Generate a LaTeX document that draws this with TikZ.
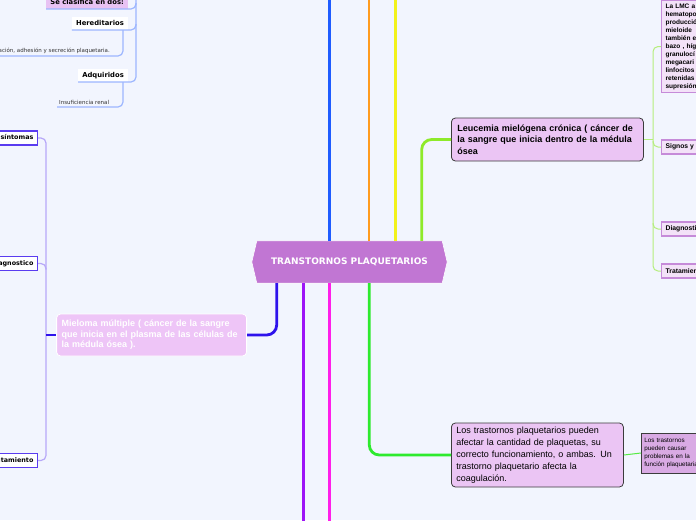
\documentclass[tikz,border=0pt]{standalone}
\usepackage{fontspec}
\setmainfont{Liberation Sans}
\newfontfamily\verd{DejaVu Sans}
\usetikzlibrary{calc}
\definecolor{bg}{HTML}{F2F5FE}
\definecolor{hexc}{HTML}{C176D3}
\definecolor{lavbox}{HTML}{EBC5F4}
\definecolor{darkbord}{HTML}{3C3C3C}
\definecolor{miecol}{HTML}{EEC5F7}
\definecolor{smallbox}{HTML}{D9AAE4}
\definecolor{clasif}{HTML}{E8C2F3}
\definecolor{rbfill}{HTML}{F3E2F8}
\definecolor{rbdraw}{HTML}{C68BD9}
\definecolor{lbdraw}{HTML}{5A3CF0}
\definecolor{cblue}{HTML}{1F5CFF}
\definecolor{corange}{HTML}{FF9B1F}
\definecolor{cyellow}{HTML}{F2F21C}
\definecolor{clime}{HTML}{8EEA2A}
\definecolor{cdblue}{HTML}{2E12EC}
\definecolor{cpurple}{HTML}{9E14F7}
\definecolor{cmagenta}{HTML}{FF1EEA}
\definecolor{cgreen}{HTML}{2EEA2E}
\definecolor{lgreen}{HTML}{B5EE7C}
\definecolor{lpurp}{HTML}{B7A8F8}
\definecolor{lblue}{HTML}{9CB6FF}
\begin{document}
\begin{tikzpicture}[x=1pt,y=-1pt,
  mainline/.style={line width=2.8pt},
  bigbox/.style={draw=darkbord, line width=0.8pt, fill=lavbox, rounded corners=4pt,
    align=left, inner ysep=3pt},
  miebox/.style={draw=white, line width=0.8pt, fill=miecol, rounded corners=4pt,
    align=left, inner ysep=3pt, text=white},
  rbox/.style={draw=rbdraw, fill=rbfill, line width=1.2pt, anchor=west, minimum height=14pt,
    inner xsep=4pt, inner ysep=2pt, font=\bfseries\fontsize{6.8}{8}\selectfont},
  lbox/.style={draw=lbdraw, fill=white, line width=1.2pt, anchor=east, minimum height=14pt,
    inner xsep=4pt, inner ysep=2pt, font=\verd\bfseries\fontsize{6.4}{8}\selectfont},
  ulabel/.style={fill=white, inner xsep=4pt, inner ysep=2pt, minimum height=13pt,
    font=\verd\bfseries\fontsize{6.8}{8}\selectfont},
  tlabel/.style={inner xsep=2pt, inner ysep=2pt, font=\verd\fontsize{5.5}{7}\selectfont, text=black!80},
  rconn/.style={lgreen, line width=1pt, rounded corners=5pt},
  lconn/.style={lpurp, line width=1.2pt, rounded corners=5pt},
  bconn/.style={lblue, line width=1.2pt, rounded corners=5pt}]
\fill[bg] (0,0) rectangle (696,520);
\useasboundingbox (0,0) rectangle (696,520);

% centre
\node[minimum width=195pt, minimum height=42pt, inner sep=0pt] (center) at (349.5,262) {};
\fill[hexc, draw=white, line width=0.6pt] (center.west) -- ($(center.north west)+(5,0)$) -- ($(center.north east)+(-5,0)$)
  -- (center.east) -- ($(center.south east)+(-5,0)$) -- ($(center.south west)+(5,0)$) -- cycle;
\node[text=white, font=\verd\bfseries\fontsize{9}{10}\selectfont] (centertext) at (center) {TRANSTORNOS PLAQUETARIOS};

% main nodes
\node[bigbox, anchor=west, text width=180pt, inner xsep=6pt, minimum height=43pt,
  font=\bfseries\fontsize{9}{11.5}\selectfont] (leu) at (451,139.5)
  {Leucemia mielógena crónica ( cáncer de\\ la sangre que inicia dentro de la médula\\ ósea};
\node[miebox, anchor=east, text width=180pt, inner xsep=5pt, minimum height=42pt,
  font=\bfseries\fontsize{9}{10.5}\selectfont] (mie) at (247,335)
  {Mieloma múltiple ( cáncer de la sangre\\ que inicia en el plasma de las células de\\ la médula ósea ).};
\node[bigbox, anchor=west, text width=162pt, inner xsep=5pt, minimum height=64pt,
  font=\fontsize{9}{12}\selectfont] (los) at (451,455)
  {Los trastornos plaquetarios pueden\\ afectar la cantidad de plaquetas, su\\ correcto funcionamiento, o ambas. Un\\ trastorno plaquetario afecta la\\ coagulación.};
\node[draw=darkbord, line width=0.8pt, fill=smallbox, anchor=west, text width=60pt, minimum height=40pt,
  inner xsep=3pt, align=left, font=\fontsize{6.3}{8}\selectfont] (small) at (641,453)
  {Los trastornos\\ pueden causar\\ problemas en la\\ función plaquetaria};

% main connectors
\coordinate (tb) at (329.3,-5);
\coordinate (to) at (369,-5);
\coordinate (ty) at (395.3,-5);
\coordinate (tg) at (421.7,0);
\coordinate (bd) at (276.7,0);
\coordinate (bp) at (303.3,525);
\coordinate (bm) at (329.3,525);
\coordinate (bg) at (369.3,0);
\draw[cblue, mainline] (tb |- center.north) -- (tb);
\draw[corange, mainline] (to |- center.north) -- (to);
\draw[cyellow, mainline] (ty |- center.north) -- (ty);
\draw[clime, mainline, rounded corners=10pt] (tg |- center.north) |- (leu.west);
\draw[cdblue, mainline, rounded corners=10pt] (bd |- center.south) |- (mie.east);
\draw[cpurple, mainline] (bp |- center.south) -- (bp);
\draw[cmagenta, mainline] (bm |- center.south) -- (bm);
\draw[cgreen, mainline, rounded corners=10pt] (bg |- center.south) |- (los.west);
\draw[cgreen!70!lgreen, line width=1pt] (los.east) -- (small.west);

% right column
\node[draw=rbdraw, fill=rbfill, line width=1.2pt, anchor=north west, text width=56pt,
  inner xsep=4pt, inner ysep=3pt, align=left, font=\bfseries\fontsize{6.5}{8}\selectfont] (lmc) at (661,0)
  {La LMC a\\ hematopo\\ producció\\ mieloide\\ también e\\ bazo , híg\\ granulocí\\ megacari\\ linfocitos\\ retenidas\\ supresión};
\node[rbox] (sig) at (661,147) {Signos y síntomas};
\node[rbox] (dia) at (661,229) {Diagnostico};
\node[rbox] (tra) at (661,271) {Tratamiento};
\coordinate (rv) at (653,0);
\draw[rconn] (lmc.west) -| (rv |- leu.east) |- (tra.west);
\draw[rconn] (leu.east) -- (rv |- leu.east);
\draw[rconn] ($(rv |- sig.west)+(0,-6)$) |- (sig.west);
\draw[rconn] ($(rv |- dia.west)+(0,-6)$) |- (dia.west);

% left column
\node[lbox] (sint) at (38,138) {Signos y síntomas};
\node[lbox] (diag) at (38,263.5) {Diagnostico};
\node[lbox] (tratl) at (38,460.5) {Tratamiento};
\coordinate (lv) at (46,0);
\draw[lconn] (sint.east) -| (lv |- mie.west) |- (tratl.east);
\draw[lconn] ($(lv |- diag.east)+(0,6)$) |- (diag.east);
\draw[cdblue, line width=1.2pt] (lv |- mie.west) -- (mie.west);

% top left
\node[ulabel, fill=clasif, anchor=south east] (cla) at (128,9) {Se clasifica en dos:};
\node[ulabel, anchor=south east] (her) at (128,30) {Hereditarios};
\node[ulabel, anchor=south east] (adq) at (128,82) {Adquiridos};
\node[tlabel, anchor=south east] (hertxt) at (112,56) {ación, adhesión y secreción plaquetaria.};
\node[tlabel, anchor=south west] (insu) at (57,107) {Insuficiencia renal};
\coordinate (lb) at (136,-5);
\draw[bconn] (lb) |- (adq.south west);
\draw[bconn] ($(lb |- her.south)+(0,-6)$) |- (her.south west);
\draw[bconn] ($(lb |- cla.south)+(0,-6)$) |- (cla.south west);
\draw[bconn] ($(her.south east)+(-5,0)$) |- (hertxt.south west);
\draw[bconn] ($(adq.south east)+(-5,0)$) |- (insu.south west);
\end{tikzpicture}
\end{document}
